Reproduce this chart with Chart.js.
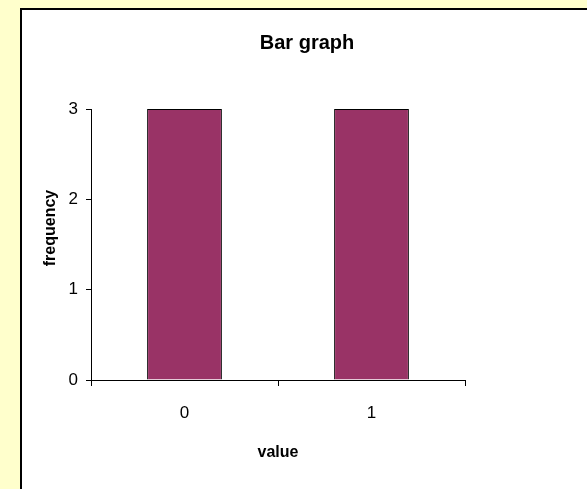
<!DOCTYPE html>
<html>
<head>
<meta charset="utf-8">
<title>Bar graph</title>
<script src="https://cdn.jsdelivr.net/npm/chart.js@4"></script>
<style>
  html, body { margin: 0; padding: 0; }
  body { width: 587px; height: 489px; background: #FFFFCC; position: relative; overflow: hidden; }
  #frame { position: absolute; left: 20px; top: 8px; width: 600px; height: 500px;
           background: #FFFFFF; border-left: 2px solid #000; border-top: 2px solid #000; }
  #chart { position: absolute; left: 0; top: 0; }
</style>
</head>
<body>
<div id="frame"></div>
<canvas id="chart" width="587" height="489"></canvas>
<script>
// Chart data
const chartTitle = 'Bar graph';
const categories = ['0', '1'];
const frequencies = [3, 3];
const yTicks = [0, 1, 2, 3];
const xAxisTitle = 'value';
const yAxisTitle = 'frequency';

const FONT = "'Liberation Sans', Arial, sans-serif";

// Panel title and vertical axis caption, placed over the white panel
const panelText = {
  id: 'panelText',
  afterDraw(chart) {
    const ctx = chart.ctx;
    ctx.save();
    ctx.fillStyle = '#000';
    ctx.textAlign = 'center';

    ctx.font = 'bold 20px ' + FONT;
    ctx.textBaseline = 'alphabetic';
    ctx.fillText(chartTitle, 307, 49);

    ctx.font = 'bold 16px ' + FONT;
    ctx.textBaseline = 'middle';
    ctx.translate(51, 228);
    ctx.rotate(-Math.PI / 2);
    ctx.fillText(yAxisTitle, 0, 0);
    ctx.restore();
  }
};

new Chart(document.getElementById('chart'), {
  type: 'bar',
  data: {
    labels: categories,
    datasets: [{
      data: frequencies,
      backgroundColor: '#993366',
      borderColor: '#000000',
      borderWidth: 1,
      barPercentage: 0.4,
      categoryPercentage: 1.0
    }]
  },
  options: {
    responsive: false,
    animation: false,
    devicePixelRatio: 1,
    layout: { padding: { left: 20, top: 109, right: 122, bottom: 0 } },
    plugins: {
      legend: { display: false },
      title: { display: false },
      tooltip: { enabled: false }
    },
    scales: {
      x: {
        offset: true,
        grid: { display: true, offset: true, drawOnChartArea: false, drawTicks: true,
                tickLength: 6, color: '#000', lineWidth: 1 },
        border: { display: true, color: '#000', width: 1 },
        ticks: { color: '#000', font: { family: FONT, size: 17 }, padding: 17, maxRotation: 0 },
        title: { display: true, text: xAxisTitle, color: '#000',
                 font: { family: FONT, size: 16, weight: 'bold' },
                 padding: { top: 0, bottom: 27 } },
        afterFit(scale) {
          scale.height = 109;
          scale.paddingLeft = 0; scale.paddingRight = 0;
        }
      },
      y: {
        min: 0,
        max: 3,
        afterBuildTicks(scale) { scale.ticks = yTicks.map(v => ({ value: v })); },
        grid: { display: true, drawOnChartArea: false, drawTicks: true,
                tickLength: 5, color: '#000', lineWidth: 1 },
        border: { display: true, color: '#000', width: 1 },
        ticks: { color: '#000', font: { family: FONT, size: 17 }, padding: 8 },
        title: { display: false },
        afterFit(scale) {
          scale.width = 71;
          scale.paddingTop = 0; scale.paddingBottom = 0;
        }
      }
    }
  },
  plugins: [panelText]
});
</script>
</body>
</html>
